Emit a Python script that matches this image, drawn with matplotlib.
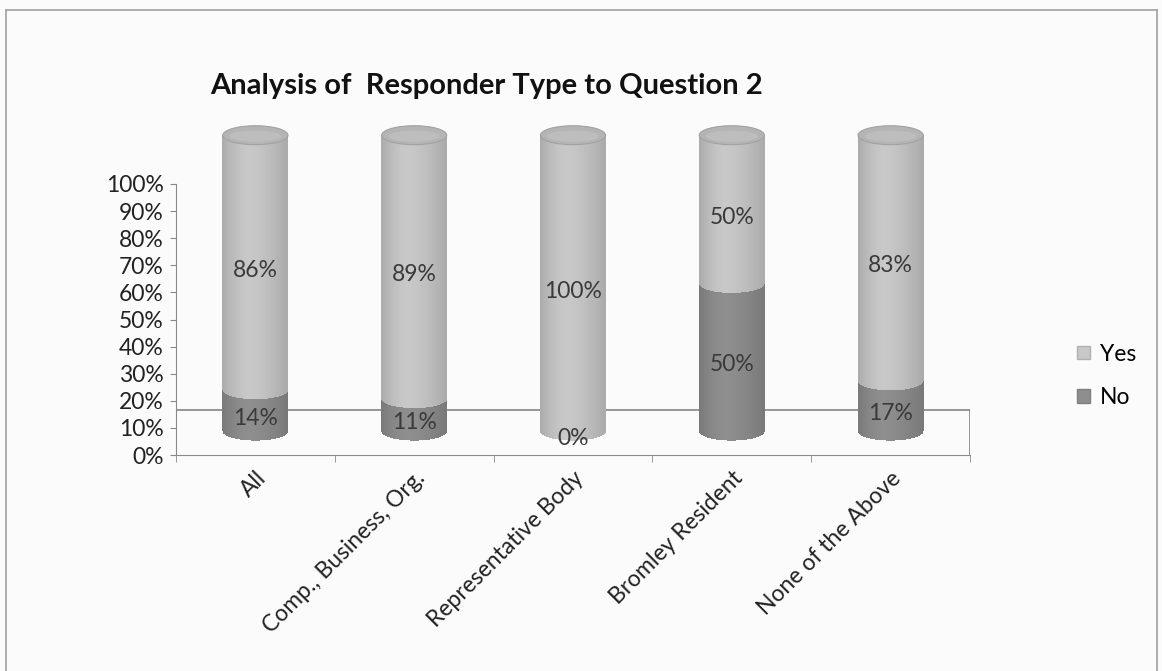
import numpy as np
import matplotlib
matplotlib.use("Agg")
import matplotlib.pyplot as plt
from matplotlib.patches import Ellipse, Rectangle
from matplotlib.collections import PolyCollection
from matplotlib.lines import Line2D
from matplotlib.colors import to_rgb

plt.rcParams['font.family'] = ['Lato', 'DejaVu Sans']

# ---- data ----
categories = ["All", "Comp., Business, Org.", "Representative Body",
              "Bromley Resident", "None of the Above"]
no_pct = [14, 11, 0, 50, 17]
yes_pct = [86, 89, 100, 50, 83]
series_names = ["Yes", "No"]
y_ticks = [0, 10, 20, 30, 40, 50, 60, 70, 80, 90, 100]

# ---- styling ----
yes_color = "#c8c8c8"
no_color = "#8e8e8e"
bar_width = 0.41
cap_h = 0.07          # ellipse height in axis units
base = 0.09           # perspective lift of the cylinder base
scale = 1.09          # perspective stretch of the cylinders
fs = 16.5
n_strips = 64

W, H, DPI = 1162, 671, 100
fig = plt.figure(figsize=(W / DPI, H / DPI), dpi=DPI)
fig.patch.set_facecolor("#fbfbfb")

px_per_unit = 271.0
ax = fig.add_axes([176 / W, (H - 455) / H, 794 / W, 1.30 * px_per_unit / H])
ax.set_facecolor("none")
ax.set_xlim(-0.5, len(categories) - 0.5)
ax.set_ylim(0, 1.30)

# frame around the chart area
for xs, ys in [((6 / W, 6 / W), (0, 1 - 10 / H)),
               ((6 / W, 1157 / W), (1 - 10 / H, 1 - 10 / H)),
               ((1157 / W, 1157 / W), (0, 1 - 10 / H))]:
    fig.add_artist(Line2D(xs, ys, transform=fig.transFigure, color="#a0a0a0", lw=1.2))

# axes lines
for s in ["top", "right"]:
    ax.spines[s].set_visible(False)
ax.spines["left"].set_bounds(0, 1.0)
ax.spines["left"].set_color("#8a8a8a")
ax.spines["bottom"].set_color("#8a8a8a")

ax.set_yticks([v / 100 for v in y_ticks])
ax.set_yticklabels([f"{v}%" for v in y_ticks], fontsize=fs, color="#222222")
ax.tick_params(axis="y", length=4, color="#8a8a8a", pad=5)

x = np.arange(len(categories))
ax.set_xticks(x)
ax.set_xticklabels(categories, rotation=45, ha="right", va="top",
                   rotation_mode="anchor", fontsize=fs, color="#222222")
ax.tick_params(axis="x", length=0, pad=9)
ax.set_xticks(np.arange(len(categories) + 1) - 0.5, minor=True)
ax.tick_params(axis="x", which="minor", length=5, color="#8a8a8a")

# floor back edge
floor = 0.165
ax.plot([-0.5, len(categories) - 0.5], [floor, floor], color="#7a7a7a", lw=1.1, zorder=1)
ax.plot([len(categories) - 0.5] * 2, [0, floor], color="#7a7a7a", lw=1.1, zorder=1)


def shade(color, u):
    """Darken a colour towards the cylinder's edges (u in 0..1 across the face)."""
    hl = 0.4
    d = (hl - u) / hl if u < hl else (u - hl) / (1 - hl)
    k = 1 - 0.15 * d ** 1.6
    return tuple(np.clip(np.array(to_rgb(color)) * k, 0, 1))


def ell(xx, xc):
    w = bar_width / 2
    return cap_h / 2 * np.sqrt(np.clip(1 - ((xx - xc) / w) ** 2, 0, 1))


def draw_segment(xc, v0, v1, color, z):
    y0 = base + scale * v0
    y1 = base + scale * v1
    edges = np.linspace(xc - bar_width / 2, xc + bar_width / 2, n_strips + 1)
    polys, colors = [], []
    for k in range(n_strips):
        xa, xb = edges[k], edges[k + 1]
        xs = np.linspace(xa, xb, 3)
        bottom = np.column_stack([xs, y0 - ell(xs, xc)])
        polys.append(np.vstack([[[xa, y1]], bottom, [[xb, y1]]]))
        colors.append(shade(color, (k + 0.5) / n_strips))
    ax.add_collection(PolyCollection(polys, facecolors=colors, edgecolors="none",
                                     antialiaseds=False, zorder=z))
    return y1


for i, xc in enumerate(x):
    n = no_pct[i] / 100
    yv = yes_pct[i] / 100
    z = 3
    if n > 0:
        draw_segment(xc, 0, n, no_color, z)
    top = draw_segment(xc, n, n + yv, yes_color, z + 1)
    ax.add_patch(Ellipse((xc, top), bar_width, cap_h, facecolor="#b4b4b4",
                         edgecolor="#a2a2a2", lw=0.8, zorder=z + 1.3))
    ax.add_patch(Ellipse((xc, top - cap_h * 0.05), bar_width * 0.8, cap_h * 0.6,
                         facecolor="#bdbdbd", edgecolor="none", zorder=z + 1.4))

    # value labels
    ax.text(xc, base + scale * (n / 2) - 0.03, f"{no_pct[i]}%", ha="center", va="center",
            fontsize=fs, color="#3a3a3a", zorder=10)
    ax.text(xc, base + scale * (n + yv / 2) - 0.03, f"{yes_pct[i]}%", ha="center",
            va="center", fontsize=fs, color="#3a3a3a", zorder=10)

# title
fig.text(210 / W, 1 - 86 / H, "Analysis of  Responder Type to Question 2",
         fontsize=21, fontweight="bold", color="#111111", ha="left", va="center")

# legend
handles = [Rectangle((0, 0), 1, 1, facecolor=yes_color, edgecolor="#b0b0b0"),
           Rectangle((0, 0), 1, 1, facecolor=no_color, edgecolor="#808080")]
fig.legend(handles, series_names, loc="center left", bbox_to_anchor=(1066 / W, 1 - 376 / H),
           frameon=False, fontsize=fs, handlelength=0.55, handleheight=0.55,
           handletextpad=0.45, labelspacing=1.0, borderpad=0)

fig.savefig("out.png", dpi=DPI, facecolor=fig.get_facecolor())
